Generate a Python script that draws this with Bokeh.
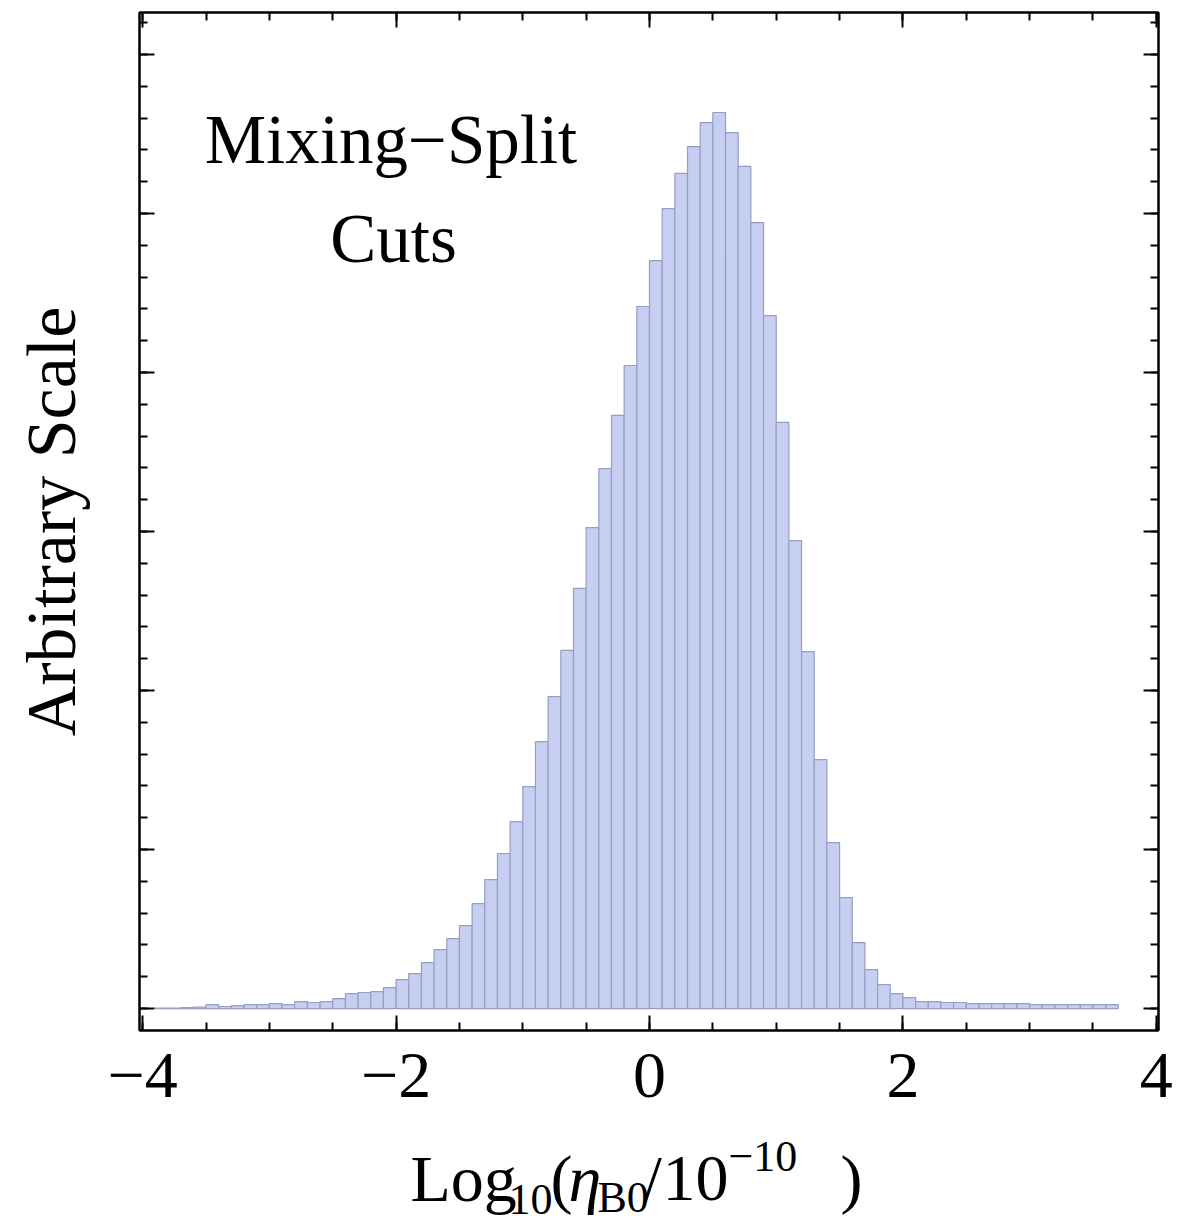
from bokeh.plotting import figure
from bokeh.layouts import column
from bokeh.models import Range1d, LinearAxis, FixedTicker, Label
from bokeh.core.properties import value
from bokeh.embed import file_html
from bokeh.resources import INLINE

# ---- data ----
bin_start = -3.9
bin_width = 0.1
counts = [
    0.3, 0.3, 0.6, 0.9, 2.5, 1.3, 1.9, 2.5, 2.5, 3.1,      # -3.9 .. -3.0
    2.5, 4.4, 3.8, 4.4, 6.3, 9.4, 10.1, 10.7, 13.2, 18.2,   # -2.9 .. -2.0
    22.0, 28.9, 37.1, 44.0, 52.2, 66.0, 81.1, 97.5, 117.6, 139.6,  # -1.9 .. -1.0
    167.9, 196.2, 225.2, 264.2, 302.5, 339.6, 373.0, 404.4, 441.5,  # -0.9 .. -0.1
    470.4, 503.1, 525.2, 542.1, 557.2, 563.5, 550.9, 529.6, 494.3, 435.8,  # 0.0 .. 0.9
    368.6, 294.3, 224.5, 156.6, 104.4, 69.8, 41.5, 24.5, 15.1, 9.4,  # 1.0 .. 1.9
    6.9, 4.4, 4.4, 3.8, 3.8, 3.1, 3.1, 3.1, 3.1, 3.1,       # 2.0 .. 2.9
    2.5, 2.5, 2.5, 2.5, 2.5, 2.5, 2.5,                      # 3.0 .. 3.6
]
x_major = [-4, -2, 0, 2, 4]
x_tick_labels = ["\u22124", "\u22122", "0", "2", "4"]
x_minor = [-4, -3.5, -3, -2.5, -2, -1.5, -1, -0.5, 0, 0.5, 1, 1.5, 2, 2.5, 3, 3.5, 4]
y_major = [0, 100, 200, 300, 400, 500, 600]
y_minor = [20 * i for i in range(32)]

lefts = [round(bin_start + i * bin_width, 3) for i in range(len(counts))]
rights = [round(l + bin_width, 3) for l in lefts]

FONT = "Liberation Serif"
W = 1184
BL, BR = 139, 26

p = figure(width=W, height=1140, output_backend="svg", toolbar_location=None,
           title=None,
           x_range=Range1d(-4.025, 4.017), y_range=Range1d(-13.8, 626.4),
           min_border_left=BL, min_border_top=12, min_border_right=BR,
           min_border_bottom=110, background_fill_color="white",
           border_fill_color="white")
p.grid.visible = False
p.outline_line_color = "black"
p.outline_line_width = 2

p.quad(left=lefts, right=rights, bottom=0, top=counts,
       fill_color="#c6cef1", line_color="#979ec4", line_width=1.2)


def style_axis(ax, labels=True):
    ax.axis_line_color = "black"
    ax.axis_line_width = 2
    ax.major_tick_in = 15
    ax.major_tick_out = 0
    ax.minor_tick_in = 8
    ax.minor_tick_out = 0
    ax.major_tick_line_width = 2
    ax.minor_tick_line_width = 2
    ax.major_tick_line_color = "black"
    ax.minor_tick_line_color = "black"
    if not labels:
        ax.major_label_text_font_size = "0px"
        ax.major_label_standoff = 0


xt = FixedTicker(ticks=x_major, minor_ticks=x_minor)
yt = FixedTicker(ticks=y_major, minor_ticks=y_minor)

xa = p.xaxis[0]
xa.ticker = xt
style_axis(xa)
xa.major_label_overrides = {t: s for t, s in zip(x_major, x_tick_labels)}
xa.major_label_text_font = FONT
xa.major_label_text_font_size = "66px"
xa.major_label_text_color = "black"
xa.major_label_standoff = 23

ya = p.yaxis[0]
ya.ticker = yt
style_axis(ya, labels=False)
ya.major_label_overrides = {t: "" for t in y_major}
ya.axis_label = "Arbitrary Scale"
ya.axis_label_text_font = FONT
ya.axis_label_text_font_size = "70px"
ya.axis_label_text_font_style = "normal"
ya.axis_label_text_color = "black"
ya.axis_label_standoff = 50

top_ax = LinearAxis(ticker=xt)
style_axis(top_ax, labels=False)
top_ax.major_label_overrides = {t: "" for t in x_major}
p.add_layout(top_ax, "above")

right_ax = LinearAxis(ticker=yt)
style_axis(right_ax, labels=False)
right_ax.major_label_overrides = {t: "" for t in y_major}
p.add_layout(right_ax, "right")

# annotation inside the plot
p.add_layout(Label(x=-2.04, y=546, text="Mixing\u2212Split", text_align="center",
                   text_baseline="alphabetic", text_font=FONT,
                   text_font_size="69px", text_color="black"))
p.add_layout(Label(x=-2.02, y=484, text="Cuts", text_align="center",
                   text_baseline="alphabetic", text_font=FONT,
                   text_font_size="69px", text_color="black"))

# ---- x-axis title strip (pieces for sub/superscripts) ----
H2 = 79
TOP2 = 1140
q = figure(width=W, height=H2, output_backend="svg", toolbar_location=None,
           title=None, x_axis_location=None, y_axis_location=None,
           x_range=Range1d(BL, W - BR), y_range=Range1d(0, H2),
           min_border_left=BL, min_border_right=BR, min_border_top=0,
           min_border_bottom=0, border_fill_color="white",
           background_fill_color="white")
q.grid.visible = False
q.outline_line_color = None

# (text, left px, wanted baseline px, font size px, style)
pieces = [
    ("Log", 410, 1200, 66, "normal"),
    ("10", 508, 1214, 44, "normal"),
    ("(", 550, 1200, 66, "normal"),
    ("\u03b7", 568, 1200, 66, "italic"),
    ("B0", 597, 1212, 44, "normal"),
    ("/", 643, 1200, 66, "normal"),
    ("10", 662, 1200, 66, "normal"),
    ("\u221210", 728, 1171, 44, "normal"),
    (")", 840, 1200, 66, "normal"),
]
for txt, px, py, fs, st in pieces:
    corr = round(0.33 * fs)  # measured baseline drift of the svg text
    q.text(x=[px], y=[TOP2 + H2 - (py - corr)], text=[txt], text_align="left",
           text_baseline="alphabetic", text_font=value(FONT),
           text_font_size=value(f"{fs}px"), text_font_style=st,
           text_color="black")

layout = column(p, q, spacing=0)
open("out.html", "w").write(file_html(layout, INLINE))
